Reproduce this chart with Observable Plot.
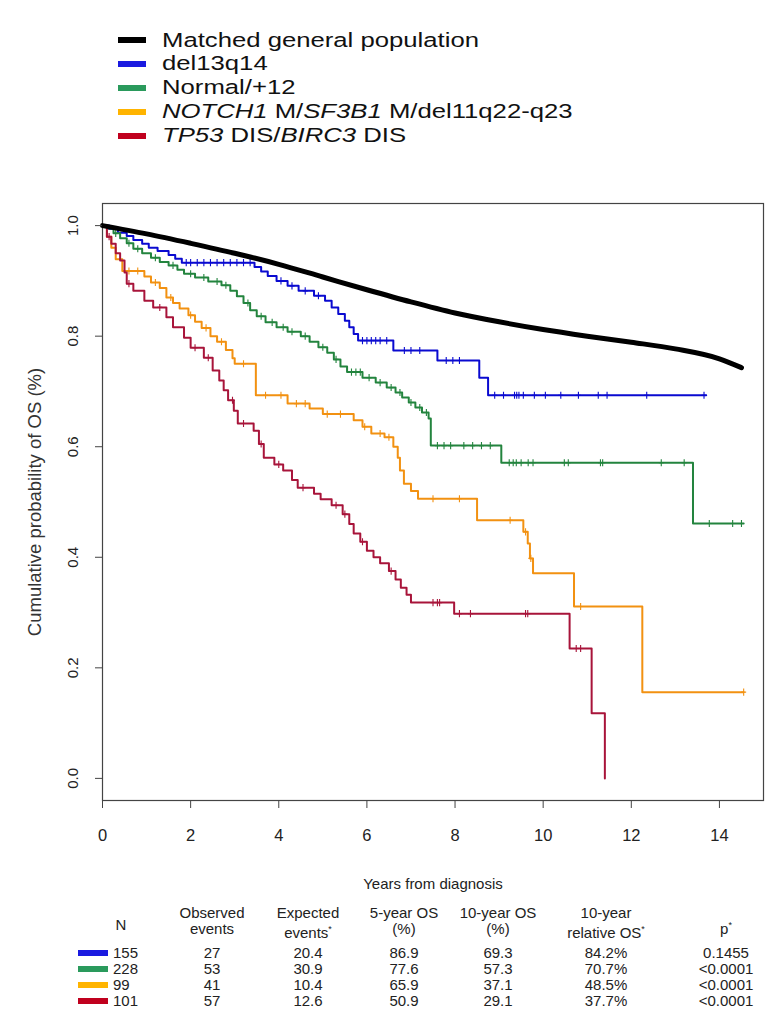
<!DOCTYPE html>
<html><head><meta charset="utf-8">
<script src="https://cdn.jsdelivr.net/npm/d3@7"></script>
<script src="https://cdn.jsdelivr.net/npm/@observablehq/plot@0.6"></script>
<style>
body{margin:0;background:#fff;font-family:"Liberation Sans",Arial,sans-serif;color:#111}
#page{position:relative;width:766px;height:1030px;overflow:hidden}
#legend{position:absolute;left:0;top:0;width:766px;height:165px}
#chart{position:absolute;left:0;top:165px}
#table{position:absolute;left:0;top:900px;width:766px;height:130px;font-size:15px}
.lg{position:absolute;left:162px;height:23px;line-height:23px;font-size:24px;white-space:nowrap;color:#111;transform:scale(1.07,0.82);transform-origin:0 50%}
.sw{position:absolute;left:118px;width:28px;height:6px}
.cell{position:absolute;transform:translateX(-50%);white-space:nowrap;text-align:center;line-height:16px;color:#222}
.tsw{position:absolute;left:78px;width:30px;height:6px}
</style></head>
<body><div id="page"><div id="legend"></div><div id="chart"></div><div id="table"></div></div>
<script>
// ---------- data ----------
const seriesNames = ["Matched general population","del13q14","Normal/+12","NOTCH1 M/SF3B1 M/del11q22-q23","TP53 DIS/BIRC3 DIS"];
const legendParts = [
  [["Matched general population",false]],
  [["del13q14",false]],
  [["Normal/+12",false]],
  [["NOTCH1",true],[" M/",false],["SF3B1",true],[" M/del11q22-q23",false]],
  [["TP53",true],[" DIS/",false],["BIRC3",true],[" DIS",false]]
];
const lineColors = ["#000000","#0a0ad0","#23843e","#f29111","#a8143a"];
const swatchColors = ["#000000","#1a1ae0","#2a9a5c","#ffb400","#c0001e"];

// general population (expected survival)
const genT = [0,1,2,3,4,5,6,7,8,9,10,11,12,13,14,14.5];
const genS = [1.0,0.985,0.968,0.95,0.93,0.907,0.884,0.862,0.842,0.826,0.812,0.80,0.789,0.777,0.759,0.743];

// del13q14
const blueT = [0,0.15,0.35,0.55,0.7,0.9,1.05,1.25,1.5,1.65,1.8,3.45,3.6,3.75,3.95,4.2,4.45,4.8,5.05,5.2,5.35,5.5,5.6,5.7,5.8,6.6,7.6,8.55,8.75,13.7];
const blueS = [1.0,0.994,0.987,0.981,0.974,0.967,0.960,0.954,0.947,0.940,0.933,0.925,0.917,0.909,0.900,0.891,0.882,0.873,0.864,0.852,0.840,0.828,0.816,0.804,0.792,0.774,0.756,0.725,0.693,0.693];
const blueCens = [1.9,2.0,2.15,2.3,2.45,2.6,2.75,2.9,3.05,3.2,3.35,4.05,4.3,4.6,4.9,5.9,6.0,6.1,6.2,6.3,6.45,6.85,7.0,7.2,7.8,7.95,8.1,8.9,9.1,9.35,9.4,9.45,9.55,9.8,10.05,10.4,10.8,11.25,11.45,12.35,13.65];

// Normal/+12
const greenT = [0,0.1,0.25,0.4,0.55,0.7,0.9,1.1,1.3,1.5,1.7,1.85,2.1,2.4,2.7,2.9,3.05,3.2,3.35,3.5,3.7,3.95,4.2,4.5,4.7,4.9,5.1,5.25,5.4,5.55,5.9,6.2,6.45,6.65,6.8,6.95,7.1,7.25,7.4,7.45,9.05,13.4,14.55];
const greenS = [1.0,0.995,0.986,0.977,0.968,0.958,0.950,0.942,0.934,0.928,0.920,0.913,0.906,0.899,0.892,0.882,0.872,0.860,0.847,0.836,0.825,0.816,0.808,0.800,0.790,0.780,0.770,0.758,0.745,0.735,0.725,0.716,0.707,0.698,0.689,0.680,0.671,0.662,0.651,0.602,0.571,0.461,0.461];
const greenCens = [0.3,0.6,0.8,1.2,1.6,2.0,2.3,2.6,2.8,3.3,3.6,3.85,4.1,4.3,4.6,5.0,5.3,5.65,5.75,5.85,6.05,6.3,6.55,6.75,7.0,7.2,7.35,7.6,7.75,7.9,8.2,8.4,8.6,8.8,9.23,9.32,9.39,9.5,9.66,9.77,10.48,10.57,11.3,11.35,12.68,13.2,13.77,14.3,14.5];

// NOTCH1 M / SF3B1 M / del11q22-q23
const orangeT = [0,0.1,0.2,0.3,0.45,0.95,1.1,1.3,1.45,1.6,1.75,1.95,2.1,2.25,2.45,2.6,2.8,2.95,3.0,3.48,4.2,4.7,5.0,5.7,5.9,6.1,6.4,6.6,6.7,6.75,6.84,7.0,7.16,8.5,9.55,9.65,9.7,9.77,10.7,12.25,14.55];
const orangeS = [1.0,0.98,0.96,0.939,0.918,0.908,0.897,0.887,0.870,0.860,0.850,0.838,0.826,0.815,0.800,0.790,0.775,0.760,0.750,0.693,0.678,0.669,0.659,0.648,0.636,0.624,0.617,0.600,0.580,0.557,0.533,0.520,0.506,0.467,0.446,0.425,0.398,0.371,0.311,0.156,0.156];
const orangeCens = [0.6,0.8,1.2,1.55,2.0,2.35,2.7,3.2,3.7,4.05,4.4,4.6,5.1,5.4,5.95,6.3,6.5,7.5,8.1,9.25,9.6,9.72,10.85,14.55];

// TP53 DIS / BIRC3 DIS
const redT = [0,0.1,0.2,0.3,0.4,0.5,0.55,0.7,0.95,1.15,1.45,1.6,1.85,2.0,2.3,2.5,2.65,2.75,2.85,2.98,3.07,3.43,3.55,3.66,3.9,4.1,4.3,4.43,4.8,4.95,5.2,5.45,5.6,5.7,5.85,6.0,6.15,6.3,6.5,6.65,6.77,6.9,7.0,7.98,10.6,11.1,11.4];
const redS = [1.0,0.98,0.967,0.95,0.937,0.915,0.895,0.882,0.864,0.852,0.834,0.816,0.797,0.779,0.761,0.738,0.720,0.702,0.684,0.665,0.642,0.629,0.605,0.580,0.568,0.557,0.540,0.526,0.515,0.505,0.494,0.478,0.460,0.443,0.428,0.412,0.400,0.389,0.375,0.360,0.345,0.332,0.318,0.298,0.235,0.118,0.0];
const redCens = [0.15,0.6,1.3,2.1,2.4,2.95,3.2,3.6,4.0,4.55,5.3,5.5,5.9,6.55,7.5,7.6,7.65,8.1,8.35,9.6,9.65,10.75,10.85];

const xTicks = [0,2,4,6,8,10,12,14];
const yTicks = [0,0.2,0.4,0.6,0.8,1.0];
const xTitle = "Years from diagnosis";
const yTitle = "Cumulative probability of OS (%)";

// table
const tableHeader = [["N",""],["Observed","events"],["Expected","events*"],["5-year OS","(%)"],["10-year OS","(%)"],["10-year","relative OS*"],["p*",""]];
const tabN = ["155","228","99","101"];
const tabObs = ["27","53","41","57"];
const tabExp = ["20.4","30.9","10.4","12.6"];
const tabOS5 = ["86.9","77.6","65.9","50.9"];
const tabOS10 = ["69.3","57.3","37.1","29.1"];
const tabRel = ["84.2%","70.7%","48.5%","37.7%"];
const tabP = ["0.1455","<0.0001","<0.0001","<0.0001"];

// ---------- legend ----------
const legend = document.getElementById("legend");
const rowY = [40, 63.5, 87.5, 111.5, 135.5];
legendParts.forEach((parts, i) => {
  const sw = document.createElement("div");
  sw.className = "sw"; sw.style.top = (rowY[i]-3)+"px"; sw.style.background = swatchColors[i];
  legend.appendChild(sw);
  const t = document.createElement("div");
  t.className = "lg"; t.style.top = (rowY[i]-11.5)+"px";
  parts.forEach(([txt, it]) => {
    const s = document.createElement("span"); s.textContent = txt;
    if (it) s.style.fontStyle = "italic";
    t.appendChild(s);
  });
  legend.appendChild(t);
});

// ---------- chart ----------
function mk(T, S){ return T.map((t,i)=>({t, s:S[i]})); }
function stepAt(T, S, x){ let v = S[0]; for (let i=0;i<T.length;i++){ if (T[i] <= x) v = S[i]; } return v; }
const groups = [
  {T:blueT,S:blueS,C:blueCens,color:lineColors[1]},
  {T:greenT,S:greenS,C:greenCens,color:lineColors[2]},
  {T:orangeT,S:orangeS,C:orangeCens,color:lineColors[3]},
  {T:redT,S:redS,C:redCens,color:lineColors[4]}
];
const plusSymbol = {draw(ctx, size){ const r = Math.sqrt(size)/2; ctx.moveTo(0,-r); ctx.lineTo(0,r); ctx.moveTo(-r*0.7,0); ctx.lineTo(r*0.7,0); }};

const marks = [Plot.frame({stroke:"#444", strokeWidth:1.2})];
groups.forEach(g => {
  marks.push(Plot.line(mk(g.T,g.S), {x:"t", y:"s", stroke:g.color, strokeWidth:2, curve:"step-after"}));
  marks.push(Plot.dot(g.C.map(t=>({t, s:stepAt(g.T,g.S,t)})), {x:"t", y:"s", symbol:plusSymbol, r:4, stroke:g.color, strokeWidth:1.1, fill:"none"}));
});
marks.push(Plot.line(mk(genT,genS), {x:"t", y:"s", stroke:lineColors[0], strokeWidth:5, curve:"monotone-x"}));
marks.push(Plot.axisX({ticks:xTicks, tickSize:8, tickPadding:21, fontSize:16.5, label:null, stroke:"#444"}));
marks.push(Plot.axisY({ticks:yTicks, tickSize:7, tickFormat:()=> "", label:null, stroke:"#444"}));
marks.push(Plot.text(yTicks, {y:d=>d, text:d=>d.toFixed(1), frameAnchor:"left", textAnchor:"middle", dx:-29, rotate:-90, fontSize:15, fill:"#222"}));
marks.push(Plot.text([yTitle], {text:d=>d, frameAnchor:"left", textAnchor:"middle", dx:-67, rotate:-90, fontSize:18.5, fill:"#333"}));
marks.push(Plot.text([xTitle], {text:d=>d, frameAnchor:"bottom", dy:88, fontSize:15, fill:"#222"}));

const chart = Plot.plot({
  width:766, height:735,
  marginTop:38, marginBottom:100, marginLeft:102, marginRight:3,
  x:{domain:[0,15]},
  y:{domain:[-0.04,1.04]},
  style:{fontFamily:"'Liberation Sans',Arial,sans-serif", background:"#fff", color:"#222"},
  marks
});
document.getElementById("chart").appendChild(chart);

// ---------- table ----------
const table = document.getElementById("table");
const colX = [121, 212, 308, 404, 498, 606, 726];
tableHeader.forEach((h, j) => {
  const c = document.createElement("div"); c.className = "cell";
  c.style.left = colX[j]+"px";
  const fmt = s => s.replace("*","<sup style='font-size:9px'>*</sup>");
  if (h[1] === "") { c.style.top = "17px"; c.innerHTML = fmt(h[0]); }
  else { c.style.top = "5px"; c.innerHTML = fmt(h[0]) + "<br>" + fmt(h[1]); }
  table.appendChild(c);
});
const cols = [tabN, tabObs, tabExp, tabOS5, tabOS10, tabRel, tabP];
const rowTop = [45, 61, 77, 93];
tabN.forEach((_, i) => {
  const sw = document.createElement("div"); sw.className = "tsw";
  sw.style.top = (rowTop[i]+5)+"px"; sw.style.background = swatchColors[i+1];
  table.appendChild(sw);
  cols.forEach((col, j) => {
    const c = document.createElement("div"); c.className = "cell";
    if (j === 0) { c.style.transform = "none"; c.style.left = "113px"; c.style.textAlign = "left"; }
    else c.style.left = colX[j]+"px";
    c.style.top = rowTop[i]+"px";
    c.textContent = col[i];
    table.appendChild(c);
  });
});
</script></body></html>
